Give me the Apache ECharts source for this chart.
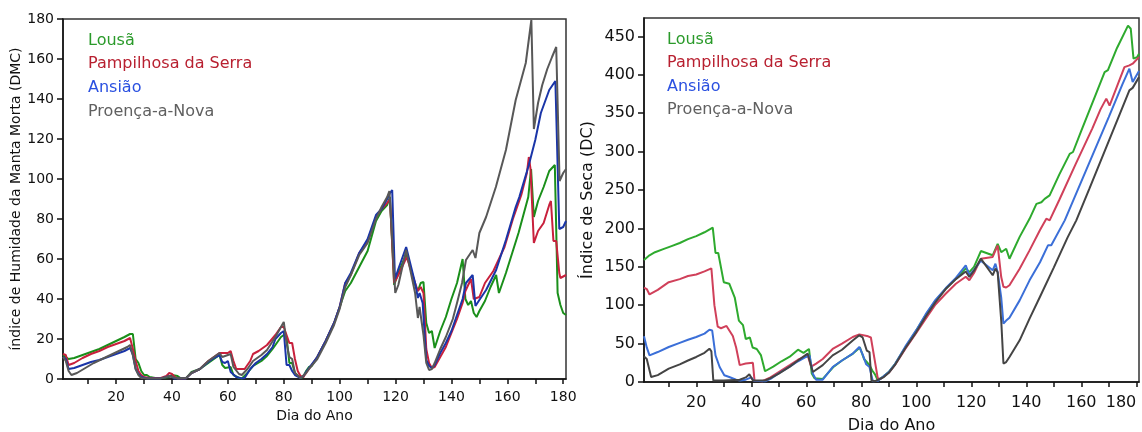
<!DOCTYPE html>
<html>
<head>
<meta charset="utf-8">
<script src="https://cdn.jsdelivr.net/npm/echarts@6/dist/echarts.min.js"></script>
<style>html,body{margin:0;padding:0;background:#fff}#c{width:1142px;height:432px}</style>
</head>
<body>
<div id="c"></div>
<script>
// ---- labels ----
const seriesNames = ['Lousã', 'Pampilhosa da Serra', 'Ansião', 'Proença-a-Nova'];
const xTickValues = [10,20,30,40,50,60,70,80,90,100,110,120,130,140,150,160,170,180];
const xLabelValues = [20,40,60,80,100,120,140,160,180];
const dmcTickValues = [0,20,40,60,80,100,120,140,160,180];
const dcTickValues = [0,50,100,150,200,250,300,350,400,450];
const xName = 'Dia do Ano';
const dmcName = 'índice de Humidade da Manta Morta (DMC)';
const dcName = 'Índice de Seca (DC)';

// ---- DMC (left panel) [day, value] ----
const lousaDmc = [[1,12],[2,11],[3,10],[5,10.5],[8,12],[11,13.5],[14,15],[17,17],[20,19],[23,21],[25,22.5],[26,22.5],[27,10],[28,8],[29,4],[30,2],[31,2],[32,1],[34,0.5],[37,0.5],[39,1],[40,2],[42,1.5],[43,0.5],[45,0.3],[47,3.5],[50,5],[53,8],[55,10],[57,12],[58,7],[59,5.5],[61,6],[62,2],[64,0.5],[65,0.3],[67,3],[69,6.5],[72,9],[74,11.5],[76,15],[78,19],[79,21],[80,22],[81,21],[82,8],[83,8],[84,3],[86,0.5],[87,1],[88,4],[89,6],[90,6.5],[92,11],[95,19],[98,28],[100,36],[102,44],[104,48],[107,56],[110,64],[113,79],[115,84],[117,87],[118,91],[119.5,47],[121,53],[124,63],[127,47],[128,44],[129,48],[130,48.5],[131,28],[132,23],[133,24],[134,15.5],[136,24],[138,31],[140,40],[142,48],[144,60],[145,40],[146,37],[147,39],[148,33],[149,31],[150,34],[152,39],[154,46],[156,52],[157,43],[159.5,53],[164,73],[167.5,91],[168.5,105],[169.5,81],[171,89],[173,96],[175,104],[177,107],[178,43],[179,37],[180,33],[181,32]];
const pampDmc = [[1,12.5],[2,12],[3,7],[5,8],[8,10.5],[11,12.5],[14,14],[17,16],[20,17.5],[23,19],[25,20.5],[26,15],[27,9],[28,4],[29,2],[30,1],[32,0.5],[36,0.5],[38,1.5],[39,3],[40,2.5],[41,1],[42,0.3],[45,0.3],[47,3],[50,5],[53,9],[55,11],[57,13],[60,13],[61,14],[62,9],[63,5],[66,5],[68,9],[69,12.5],[71,14],[74,17],[77,22],[79,26],[80,26],[81,22],[82,18],[83,18],[84,10],[85,4],[86,1.5],[87,1],[89,5],[92,11],[95,19],[98,28],[100,36],[102,48],[104,52],[107,63],[110,69],[113,81],[115,85],[117,88],[118,90],[119.5,48],[121,52],[124,61],[127,48],[128,44],[129,46],[130,43],[131,15],[132,8],[133,5.5],[134,6],[136,11],[138,16],[140,23],[142,30],[144,38],[145,44],[147,50],[148,40],[150,41],[152,48],[155,54],[156,57],[159,66],[162,80],[165,92],[167,103],[167.7,111],[168.3,105],[169.5,68],[170,68],[171,74],[173,78],[175,87],[175.6,89],[176.5,69],[177.5,69],[178.6,53],[179,50.5],[181,52]];
const ansiaoDmc = [[1,11],[2,10],[3,5],[5,5.5],[8,7],[11,8.5],[14,9.5],[17,11],[20,12.5],[23,14],[25,15.5],[26,12],[27,5],[28,2.5],[29,1],[31,0.3],[36,0.3],[38,1],[39,1.5],[40,1],[41,0.2],[45,0.3],[47,3],[50,5],[53,8.5],[55,10.5],[57,12],[58,8.5],[59,8],[60,9],[61,3.5],[63,1],[65,0.3],[66,0.5],[68,5],[70,8],[72,10],[74,12.5],[76,16],[77,20],[79,23],[80,24],[81,7],[82,7],[83,4],[84,2],[86,0.5],[87,1.5],[89,5.5],[92,11],[95,19],[98,28],[100,36],[102,48],[104,53],[107,63],[110,70],[113,82],[115,85],[117,90],[118,93],[118.8,94.5],[119.8,50],[121,55],[123.8,66],[127,48],[128,40.5],[128.6,43],[129.7,38],[131,9.5],[132,6.5],[133,5.5],[134,7],[136,13],[138,18],[140,24],[142,32],[144,40],[145.2,48],[147.6,52],[148.6,36.5],[150,39.5],[152.4,44.5],[156,54.5],[159.5,69.5],[163,86],[164.3,91],[167.7,107],[170,119.5],[172,133],[175,144.5],[177.2,149],[178.6,75],[180,76],[181,79]];
const proencaDmc = [[1,11],[2,9],[3,4],[4,2],[6,3],[9,5.5],[12,8],[15,10],[18,12],[21,14],[24,16],[25,17],[26,12],[27,5],[28,2],[29,0.5],[31,0.3],[36,0.3],[38,1],[39,1.5],[40,1],[42,0.3],[45,0.5],[47,3],[50,5],[53,9],[55,11],[57,13],[58,11],[60,12],[61,12.5],[62,6],[64,2.5],[65,2],[67,5],[69,9],[72,12],[74,14.5],[77,21],[79,26],[80,28.5],[81,18],[82,11],[83,10],[84,3],[86,0.5],[88,3],[89,5],[92,10],[95,18],[98,27],[100,35],[102,46],[104,52],[107,62],[110,68],[113,80],[115,86],[117,91],[117.8,94],[119.9,43],[121,47],[123.8,64.5],[127,43],[128,30.5],[128.6,36],[130,22],[131,8],[132,4.5],[133,5],[134,8],[136,15],[138,21],[140.5,30],[142,38],[143.8,48],[145.2,59.5],[147.6,64.5],[148.6,60.5],[150,73],[152.4,81],[155.9,96],[159.5,114.5],[163,139.5],[166.6,158],[168.6,179.5],[169.5,125],[171,138],[172.5,147],[174.3,155],[176,161],[177.5,166],[178.7,99],[180,103],[181,105]];

// ---- DC (right panel) [day, value] ----
const lousaDc = [[1,159],[3,165],[5,169],[8,173],[11,177],[14,181],[17,186],[20,190],[23,195],[26,201],[27,168],[28,168],[30,130],[32,128],[34,110],[35.5,80],[37,74],[38,56],[39.5,58],[40.5,45],[42,43],[43.5,35],[45,14],[48,20],[51,27],[54,33],[57,42],[59,38],[61,43],[62,11],[63,5],[66,4],[70,20],[73,28],[77,37],[79.5,45],[81,30],[82,26],[83,22],[84,15],[85,10],[86,2],[88,7],[90,13],[92.4,24],[96,45],[100,67],[103.4,87],[107,106],[110.7,121.5],[114.4,134.5],[118,148],[119.3,143],[121,150],[123.5,170.5],[125.5,168],[127.8,165],[129.6,180],[130.9,169],[131.5,170],[132.7,173.5],[133.9,160.5],[137.6,189],[141.2,212.5],[143.7,232],[145.5,234],[146.7,238.5],[148.5,243],[152,270],[155.8,297],[157,299.5],[160,327],[165,372],[168.5,403.5],[169.7,406],[173,435],[177,464],[178,460],[179,421],[180.3,423],[181,427.5]];
const pampDc = [[1,123],[2,121],[3,114],[6,120],[10,130],[14,134],[17,138],[20,140],[23,144],[25.5,148],[26.6,100],[27.8,72],[29,70],[31,73],[33.3,60],[34.5,45],[35.8,22],[38,24],[40.6,25],[41.2,1.5],[44,1],[47,6],[50,13],[54,22],[57,29],[60.5,35],[61.8,20],[63.6,24],[66,30],[69.6,43],[73,50],[76.9,58.6],[79.3,62],[82.5,59.5],[83.5,58],[86,5],[87,4],[90,12],[92.4,23],[96,43],[100,64],[103.4,82],[107,101],[110.7,115],[114.4,128],[118,137],[119.3,132.4],[121,142],[123.5,160.6],[127.8,162.8],[129.6,178],[130.9,136.7],[131.7,124],[132.7,123],[133.9,126],[137.6,147.6],[141.2,171.4],[145,198],[147.3,212.7],[148.5,210.5],[152,237],[158,284],[164,330],[167,355],[169.1,369],[170.3,360],[173,385],[175.7,410],[177.5,412.3],[178.7,414.5],[179.3,412],[181,423]];
const ansiaoDc = [[1,59.5],[2,45],[3,34.7],[6,39],[10,45.6],[14,51],[17,55],[20,58.6],[23,63],[24.8,68],[25.8,67],[27,34.7],[28.5,19.5],[30.2,8.7],[32,6.5],[34.5,3],[36,2],[38,3],[40,6],[41,1.5],[45,1],[47,4],[50.2,11.7],[54,20],[57,27],[59.9,32.6],[61.2,34.7],[62.4,10.8],[63.6,3],[66,3],[69.6,19.5],[73,28],[76.9,37],[79.3,45.6],[80.5,36],[81.8,23],[83,19.5],[84.2,1],[86,1.5],[88,7],[90,13],[92.4,24],[96,46],[100,67.5],[103.4,88],[107,107],[110.7,122],[114.4,135.5],[118,152],[119.3,139],[121,146],[123.5,158],[127.8,145.4],[128.8,154],[129.6,143],[130.9,110],[131.7,76],[132.7,80],[133.9,83.8],[137.6,106.3],[141.2,132.4],[145,156],[147.9,178],[149.1,178],[154,210.5],[160,261],[165,303],[170,345],[175,388],[177.5,408],[178.7,390.6],[181,405]];
const proencaDc = [[1,33.4],[2,30],[3.6,6.5],[6,9],[10,17.4],[14,23],[17,28],[20,32.6],[23,38],[24.8,43.4],[25.5,40],[26.2,2],[30,2],[35.8,3],[38,6],[39.3,10],[40.6,2],[45,2],[47,5],[50,10.8],[54,20],[57,28],[60.5,37],[62.4,13],[66,22],[69.6,34.7],[73,42],[76.9,54],[79.3,60.8],[80.5,58],[82,41],[83,39],[83.7,2],[85,1],[88,6],[90,12],[92.4,23],[96,44],[100,65],[103.4,85],[107,104],[110.7,121],[114.4,134],[118,144],[119.3,136.7],[121,145],[123.5,160.6],[127.8,139],[128.8,147.6],[129.6,143],[130.9,80],[131.7,24],[132.7,26],[133.9,32.6],[137.6,54.3],[141.2,82.5],[145,111],[150,149],[155,188],[158.2,210.5],[163,252],[168,296],[173,340],[177.5,379.8],[178.7,383],[181,397]];

const FONT = 'DejaVu Sans';
const leftColors = ['#1a8f1a', '#c8203c', '#1a35a8', '#585858'];
const rightColors = ['#2eaa2e', '#d0405a', '#3b6fd8', '#444444'];
const legendColors = ['#2a9a2a', '#b82030', '#2a50e0', '#606060'];

function xAxis(gridIndex, fs, margin, gap, alignMax) {
  return {
    type: 'value', gridIndex, min: 1, max: 181,
    name: xName, nameLocation: 'middle', nameGap: gap,
    nameTextStyle: {fontFamily: FONT, fontSize: fs, color: '#111'},
    axisLine: {show: true, onZero: false, lineStyle: {color: '#111', width: 1.5}},
    axisTick: {show: true, length: 5, customValues: xTickValues, lineStyle: {color: '#111', width: 1.5}},
    axisLabel: {customValues: xLabelValues, fontFamily: FONT, fontSize: fs, color: '#111', margin: margin, alignMaxLabel: alignMax},
    splitLine: {show: false}
  };
}
function yAxis(gridIndex, max, ticks, name, fs, gap) {
  return {
    type: 'value', gridIndex, min: 0, max: max,
    name: name, nameLocation: 'middle', nameGap: gap,
    nameTextStyle: {fontFamily: FONT, fontSize: fs, color: '#111'},
    axisLine: {show: true, lineStyle: {color: '#111', width: 1.5}},
    axisTick: {show: true, length: 6, customValues: ticks, lineStyle: {color: '#111', width: 1.5}},
    axisLabel: {customValues: ticks, fontFamily: FONT, fontSize: fs, color: '#111', margin: 9},
    splitLine: {show: false}
  };
}

const dmcSets = [lousaDmc, pampDmc, ansiaoDmc, proencaDmc];
const dcSets = [lousaDc, pampDc, ansiaoDc, proencaDc];
const series = [];
dmcSets.forEach((d, i) => series.push({
  name: seriesNames[i], type: 'line', xAxisIndex: 0, yAxisIndex: 0, data: d,
  showSymbol: false, lineStyle: {width: 2, color: leftColors[i]}, itemStyle: {color: leftColors[i]}, z: 2 + i
}));
dcSets.forEach((d, i) => series.push({
  name: seriesNames[i], type: 'line', xAxisIndex: 1, yAxisIndex: 1, data: d,
  showSymbol: false, lineStyle: {width: 2, color: rightColors[i]}, itemStyle: {color: rightColors[i]}, z: 2 + i
}));

const graphic = [];
const legTopsL = [33, 56, 80, 104];
const legTopsR = [32, 55, 79, 102];
seriesNames.forEach((n, i) => {
  graphic.push({type: 'text', left: 88, top: legTopsL[i], style: {text: n, fill: legendColors[i], font: '16px "DejaVu Sans"'}});
  graphic.push({type: 'text', left: 667, top: legTopsR[i], style: {text: n, fill: legendColors[i], font: '16px "DejaVu Sans"'}});
});

const chart = echarts.init(document.getElementById('c'), null, {renderer: 'canvas'});
chart.setOption({
  animation: false,
  backgroundColor: '#fff',
  grid: [
    {left: 63, right: 576, top: 19, bottom: 53, show: true, borderColor: '#333', borderWidth: 1.5, backgroundColor: 'transparent', containLabel: false, outerBoundsMode: 'none'},
    {left: 644, right: 3, top: 18, bottom: 50, show: true, borderColor: '#333', borderWidth: 1.5, backgroundColor: 'transparent', containLabel: false, outerBoundsMode: 'none'}
  ],
  xAxis: [xAxis(0, 14, 11, 29, 'center'), xAxis(1, 16, 13, 36, 'right')],
  yAxis: [yAxis(0, 180, dmcTickValues, dmcName, 14, 38), yAxis(1, 474, dcTickValues, dcName, 16, 48)],
  series: series,
  graphic: graphic
});
</script>
</body>
</html>
